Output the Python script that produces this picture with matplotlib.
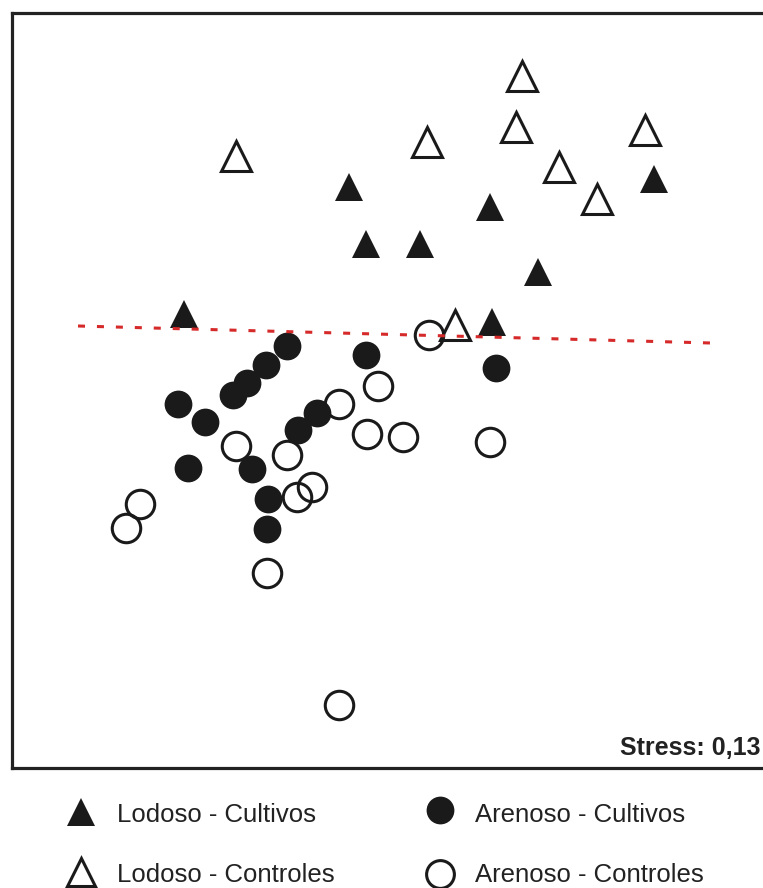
import matplotlib.pyplot as plt
from matplotlib.lines import Line2D

plt.rcParams['font.family'] = ['Liberation Sans', 'DejaVu Sans']

# posicoes (eixo NMDS, unidades da imagem)
lod_cult_x = [349, 366, 420, 184, 490, 654, 538, 492]
lod_cult_y = [187, 244, 244, 314, 207, 179, 272, 322]

lod_ctrl_x = [236, 522, 516, 427, 645, 559, 597, 455]
lod_ctrl_y = [156, 76, 127, 142, 130, 167, 199, 325]

are_cult_x = [287, 266, 247, 233, 366, 496, 178, 205, 188, 252, 268, 267, 298, 317]
are_cult_y = [346, 365, 383, 395, 355, 368, 404, 422, 468, 469, 499, 529, 430, 413]

are_ctrl_x = [429, 378, 339, 367, 403, 490, 236, 287, 297, 312, 140, 126, 267, 339]
are_ctrl_y = [335, 386, 404, 434, 437, 442, 446, 455, 497, 487, 504, 528, 573, 705]

linha_x = [78, 711]
linha_y = [326, 343]

stress = 'Stress: 0,13'
labels = ['Lodoso - Cultivos', 'Arenoso - Cultivos', 'Lodoso - Controles', 'Arenoso - Controles']

W, H = 763, 888
fig = plt.figure(figsize=(W / 100, H / 100), dpi=100)
ax = fig.add_axes([11.5 / W, 120 / H, (767 - 11.5) / W, (768 - 13) / H])
ax.set_xlim(11.5, 767)
ax.set_ylim(768, 13)
ax.set_xticks([])
ax.set_yticks([])
for s in ax.spines.values():
    s.set_linewidth(2.3)
    s.set_color('#222222')

preto = '#1a1a1a'

ax.plot(are_cult_x, are_cult_y, 'o', ms=20, mfc=preto, mec=preto, mew=0, ls='none', zorder=3)
ax.plot(lod_cult_x, lod_cult_y, '^', ms=20.5, mfc=preto, mec=preto, mew=0, ls='none', zorder=3)
ax.plot(are_ctrl_x, are_ctrl_y, 'o', ms=20.5, mfc='none', mec=preto, mew=2.2, ls='none', zorder=4)
ax.plot(lod_ctrl_x, lod_ctrl_y, '^', ms=21, mfc='none', mec=preto, mew=2.2, ls='none', zorder=4)

# linha tracejada vermelha
l, = ax.plot(linha_x, linha_y, color='#d62a2a', lw=2.2, zorder=5)
l.set_dashes([2.3, 3.9])

fig.text(760 / W, 1 - 755 / H, stress, ha='right', va='baseline',
         fontsize=18, fontweight='bold', color='#222222')

# legenda embaixo
leg_mk = [('^', preto), ('o', preto), ('^', 'none'), ('o', 'none')]
leg_pos = [(81, 812, 117, 822), (440, 810, 475, 822), (81, 872, 117, 882), (440, 874, 475, 882)]
for (m, fc), (mx, my, tx, ty), lab in zip(leg_mk, leg_pos, labels):
    ms = 20 if fc != 'none' else 20
    mew = 0 if fc != 'none' else 2.2
    fig.add_artist(Line2D([mx / W], [1 - my / H], marker=m, ms=ms, mfc=fc, mec=preto,
                          mew=mew, ls='none', transform=fig.transFigure))
    fig.text(tx / W, 1 - ty / H, lab, ha='left', va='baseline', fontsize=18.5, color='#222222')

fig.savefig('out.png', dpi=100)
